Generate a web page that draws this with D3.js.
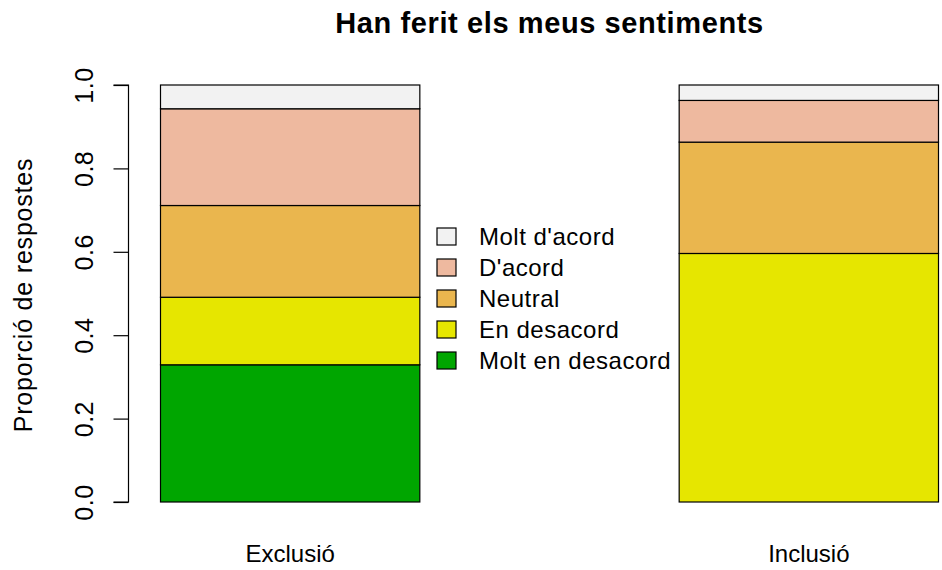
<!DOCTYPE html>
<html>
<head>
<meta charset="utf-8">
<script src="https://cdn.jsdelivr.net/npm/d3@7"></script>
<style>
  body { margin: 0; background: #fff; }
  text { font-family: "Liberation Sans", Arial, sans-serif; fill: #000; }
</style>
</head>
<body>
<svg id="chart"></svg>
<script>
// data: proportion of answers per group, bottom to top
const groups = ["Exclusió", "Inclusió"];
const levels = ["Molt en desacord", "En desacord", "Neutral", "D'acord", "Molt d'acord"];
const moltDesacord = [0.329, 0.0];
const desacord = [0.162, 0.596];
const neutral = [0.220, 0.267];
const dacord = [0.232, 0.100];
const moltDacord = [0.057, 0.037];
const colors = ["#00A600", "#E6E600", "#EAB64E", "#EEB99F", "#F2F2F2"];
const yTicks = [0, 0.2, 0.4, 0.6, 0.8, 1.0];

const width = 942, height = 570;
const svg = d3.select("#chart").attr("width", width).attr("height", height);

const table = groups.map((g, i) => ({
  group: g,
  "Molt en desacord": moltDesacord[i],
  "En desacord": desacord[i],
  "Neutral": neutral[i],
  "D'acord": dacord[i],
  "Molt d'acord": moltDacord[i]
}));

const stacked = d3.stack().keys(levels)(table);

const x = d3.scaleBand().domain(groups).range([160.5, 938.5]).paddingInner(0.5).paddingOuter(0);
const y = d3.scaleLinear().domain([0, 1]).range([502, 85]);
const color = d3.scaleOrdinal().domain(levels).range(colors);

// bars
svg.append("g")
  .selectAll("g")
  .data(stacked)
  .join("g")
  .attr("fill", (d) => color(d.key))
  .selectAll("rect")
  .data((d) => d)
  .join("rect")
  .attr("x", (d) => x(d.data.group))
  .attr("y", (d) => y(d[1]))
  .attr("width", x.bandwidth())
  .attr("height", (d) => y(d[0]) - y(d[1]))
  .attr("stroke", "#000")
  .attr("stroke-width", 1.2);

// y axis (R style, labels parallel to axis)
const yAxis = svg.append("g")
  .attr("transform", "translate(128.5,0)")
  .call(d3.axisLeft(y).tickValues(yTicks).tickFormat(d3.format(".1f")).tickSize(15).tickPadding(0))
  .call((g) => g.selectAll("path, line").attr("stroke", "#000").attr("stroke-width", 1.2))
  .call((g) => g.select(".domain").attr("d", `M-15,${y(0)}H0V${y(1)}H-15`));

yAxis.selectAll(".tick text")
  .attr("x", 0).attr("dy", 0)
  .attr("text-anchor", "middle")
  .attr("transform", "translate(-35.5,0) rotate(-90)")
  .style("font-size", "25px")
  .style("letter-spacing", "0.5px")
  .style("font-family", "'Liberation Sans', Arial, sans-serif")
  .attr("fill", "#000");

// x labels
svg.append("g")
  .selectAll("text")
  .data(groups)
  .join("text")
  .attr("x", (d) => x(d) + x.bandwidth() / 2)
  .attr("y", 562)
  .attr("text-anchor", "middle")
  .style("font-size", "24px")
  .text((d) => d);

// axis title
svg.append("text")
  .attr("transform", `translate(32,295) rotate(-90)`)
  .attr("text-anchor", "middle")
  .style("font-size", "25px")
  .style("letter-spacing", "0.8px")
  .text("Proporció de respostes");

// title
svg.append("text")
  .attr("x", 549.5)
  .attr("y", 33)
  .attr("text-anchor", "middle")
  .style("font-size", "29px")
  .style("font-weight", "bold")
  .style("letter-spacing", "0.6px")
  .text("Han ferit els meus sentiments");

// legend (top item first)
const legendItems = levels.slice().reverse();
const legend = svg.append("g").attr("transform", "translate(437,236)");
const row = legend.selectAll("g")
  .data(legendItems)
  .join("g")
  .attr("transform", (d, i) => `translate(0,${i * 31})`);
row.append("rect")
  .attr("x", 0).attr("y", -8)
  .attr("width", 19).attr("height", 17)
  .attr("fill", (d) => color(d))
  .attr("stroke", "#000")
  .attr("stroke-width", 1.2);
row.append("text")
  .attr("x", 42).attr("y", 9)
  .style("font-size", "24px")
  .style("letter-spacing", "0.5px")
  .text((d) => d);
</script>
</body>
</html>
